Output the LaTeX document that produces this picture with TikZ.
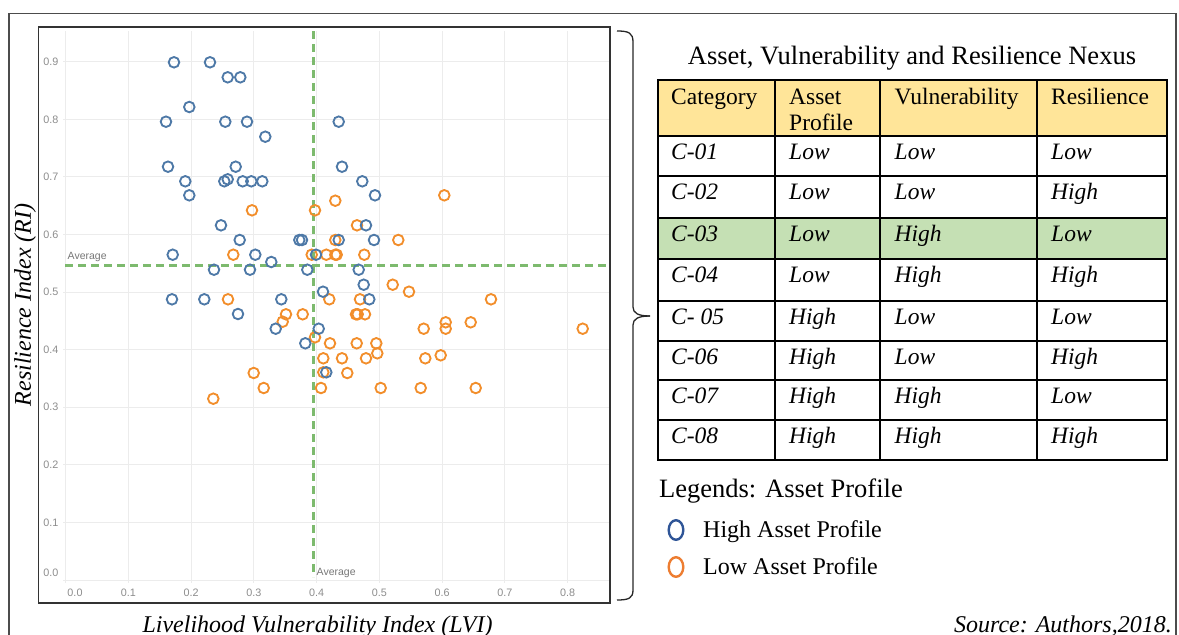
\documentclass[tikz,border=0pt]{standalone}
\usepackage{fontspec}
\setmainfont{Liberation Serif}
\newfontfamily\ticksans{Liberation Sans}
\definecolor{tblue}{RGB}{78,121,167}
\definecolor{torange}{RGB}{242,142,43}
\definecolor{avggreen}{RGB}{125,186,110}
\definecolor{gridgray}{RGB}{236,236,236}
\definecolor{ticklab}{RGB}{140,140,140}
\definecolor{hdrfill}{RGB}{255,229,153}
\definecolor{c3fill}{RGB}{197,224,180}
\definecolor{legblue}{RGB}{47,85,151}
\definecolor{legorange}{RGB}{237,125,49}
\begin{document}
\begin{tikzpicture}[x=1pt,y=-1pt,
  ticky/.style={anchor=east,inner sep=0,text=ticklab,font=\ticksans\fontsize{10.8}{12}\selectfont},
  tickx/.style={anchor=center,inner sep=0,text=ticklab,font=\ticksans\fontsize{10.8}{12}\selectfont},
  avglab/.style={inner sep=0,text=ticklab!85!black,font=\ticksans\fontsize{10.5}{12}\selectfont},
  avgline/.style={avggreen,line width=2.4pt,dash pattern=on 8pt off 5pt},
  hipt/.style={tblue,line width=1.85pt},
  lopt/.style={torange,line width=1.85pt},
  cellu/.style={anchor=base west,inner sep=0,font=\fontsize{23.5}{28}\selectfont},
  celli/.style={anchor=base west,inner sep=0,font=\fontsize{23.5}{28}\selectfont\itshape},
  tline/.style={black,line width=2pt}]
\useasboundingbox (0,0) rectangle (1179,635);
% outer frame (open at bottom)
\draw[black!70,line width=1.4pt] (9,640) -- (9,13.5) -- (1176,13.5) -- (1176,640);
% plot gridlines
\foreach \i in {0,...,8} \draw[gridgray,line width=1pt] ({65.7+62.75*\i},31) -- ({65.7+62.75*\i},583);
\foreach \j in {0,...,9} \draw[gridgray,line width=1pt] (63,{580-57.59*\j}) -- (609,{580-57.59*\j});
% plot frame
\draw[black!80,line width=1.3pt] (38.5,27) rectangle (610,603);
% tick labels
\node[ticky] (y0) at (58.5,573) {0.0};
\foreach \j in {1,...,9} \node[ticky] (y\j) at (58.5,{580-57.59*\j}) {0.\j};
\node[tickx] (x0) at (75,593) {0.0};
\foreach \i in {1,...,8} \node[tickx] (x\i) at ({65.7+62.75*\i},593) {0.\i};
% average lines
\draw[avgline] (65,265.3) -- (609,265.3);
\draw[avgline] (313.3,31) -- (313.3,577);
\node[avglab,anchor=west] (avgh) at (67.5,256.7) {Average};
\node[avglab,anchor=west] (avgv) at (316.5,572.7) {Average};
% low asset profile points
\foreach \a/\b in {252/210.3, 315/210.3, 233.3/254.7, 311.7/254.7, 326.3/254.7, 228/299.3, 286/314.3, 302.7/314.3, 282.7/321.7, 444.3/195.3, 335.3/200.7, 357/225.3, 335.3/240, 398.3/240, 335.3/254.7, 336.7/254.7, 364.3/254.7, 392.7/284.7, 409/291.7, 329.3/299.3, 360/299.3, 491/299.3, 356/314.3, 357.7/314.3, 365/314.3, 315/337.3, 323.3/358.3, 323.3/372.3, 253.7/373, 263.7/388, 213.3/398.7, 321/388, 330/343.3, 356.7/343.3, 376.3/343.3, 342/358.3, 366/358.3, 377.3/353.3, 347.3/373, 380.7/388, 420.7/388, 475.7/388, 423.7/328.7, 445.7/322.3, 445.7/328.7, 470.7/322.3, 425.3/358.3, 440.7/355.3, 582.7/328.7}
  \draw[lopt] (\a,\b) circle[radius=5.3];
% high asset profile points
\foreach \a/\b in {174/62.3, 210/62.3, 227.7/77.3, 240.3/77.3, 189.3/107, 166/121.7, 225.3/121.7, 247/121.7, 265.3/136.7, 168/166.7, 235.7/166.7, 185.3/181.3, 224.3/181.3, 227.7/179.3, 242.7/181.3, 251.3/181.3, 262.3/181.3, 189.3/195.3, 221/225.3, 239.7/240, 172.7/254.7, 255.3/254.7, 271.3/262, 214/269.7, 250/269.7, 307.3/269.7, 299.3/240, 302/240, 316/254.7, 172/299.3, 204.3/299.3, 281.3/299.3, 323/291.7, 238/314, 338.7/121.7, 342/166.7, 362.3/181.3, 375/195.3, 366/225.3, 338.7/240, 374/240, 358.7/269.7, 363.7/284.7, 369.3/299.3, 275.7/328.7, 318.7/328.7, 305.3/343.3, 326.3/372.3}
  \draw[hipt] (\a,\b) circle[radius=5.3];
% axis titles
\node[rotate=90,inner sep=0,font=\fontsize{24}{28}\selectfont\itshape] (ylab) at (25,305) {Resilience Index (RI)};
\node[anchor=base,inner sep=0,font=\fontsize{24}{28}\selectfont\itshape] (xlab) at (317.5,632) {Livelihood Vulnerability Index (LVI)};
% brace
\draw[black!85,line width=1.3pt] (617,31) .. controls (629,31) and (633,33) .. (633,42) -- (633,307) .. controls (633,313) and (638,316) .. (650,316);
\draw[black!85,line width=1.3pt] (650,316) .. controls (638,316) and (633,319) .. (633,325) -- (633,590) .. controls (633,598) and (629,600) .. (617,600);
% table title
\node[anchor=base,inner sep=0,font=\fontsize{26.5}{30}\selectfont] (ttitle) at (912,64.3) {Asset, Vulnerability and Resilience Nexus};
% table fills
\fill[hdrfill] (657.5,80) rectangle (1167,135.7);
\fill[c3fill] (657.5,217.5) rectangle (1167,258.7);
% table lines
\foreach \yy in {135.7,175.5,217.5,258.7,300.5,340.5,380,420} \draw[tline] (657.5,\yy) -- (1167,\yy);
\foreach \xx in {775,880,1036.5} \draw[tline] (\xx,80) -- (\xx,460);
\draw[tline] (657.5,80) rectangle (1167,460);
% header
\node[cellu] (h1) at (671,104) {Category};
\node[cellu,align=left,anchor=north west] (h2) at (789,88.5) {Asset\\[-2pt]Profile};
\node[cellu] (h3) at (894.5,104) {Vulnerability};
\node[cellu] (h4) at (1051,104) {Resilience};
% rows
\foreach \n/\yy/\c/\d/\e/\f in {r1/159/C-01/Low/Low/Low, r2/199/C-02/Low/Low/High, r3/241/C-03/Low/High/Low, r4/282.5/C-04/Low/High/High, r5/324/C- 05/High/Low/Low, r6/364/C-06/High/Low/High, r7/403.5/C-07/High/High/Low, r8/443.5/C-08/High/High/High}{
  \node[celli] (\n a) at (671,\yy) {\c};
  \node[celli] (\n b) at (789,\yy) {\d};
  \node[celli] (\n c) at (894.5,\yy) {\e};
  \node[celli] (\n d) at (1051,\yy) {\f};
}
% legend
\node[anchor=base west,inner sep=0,font=\fontsize{26.5}{30}\selectfont] (legt) at (659,497.5) {Legends: Asset Profile};
\draw[legblue,line width=2.4pt] (676,530) ellipse[x radius=7.3,y radius=9.8];
\draw[legorange,line width=2.4pt] (676,567) ellipse[x radius=7.3,y radius=9.8];
\node[anchor=base west,inner sep=0,font=\fontsize{24}{28}\selectfont] (leg1) at (703,537.5) {High Asset Profile};
\node[anchor=base west,inner sep=0,font=\fontsize{24}{28}\selectfont] (leg2) at (703,574) {Low Asset Profile};
% source
\node[anchor=base east,inner sep=0,font=\fontsize{24}{28}\selectfont\itshape] (src) at (1172,632) {Source: Authors,2018.};
\end{tikzpicture}
\end{document}
